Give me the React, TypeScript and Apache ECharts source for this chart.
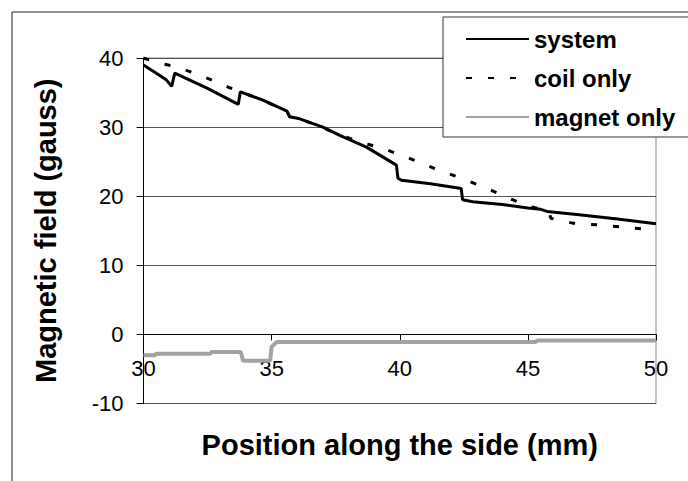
import React, { useEffect, useRef } from "react";
import * as echarts from "echarts";

// Position along the side (mm)
const systemX = [30, 30.5, 30.9, 31.1, 31.22, 32.5, 33.7, 33.78, 34.66, 35.6, 35.7, 36.1, 37.0, 37.66, 38.7, 39.87, 39.93, 40.07, 41.2, 42.4, 42.45, 42.85, 44.0, 45.0, 45.5, 45.75, 47.0, 48.5, 50];
const systemY = [39.0, 37.8, 36.8, 35.9, 37.8, 35.6, 33.3, 35.1, 33.9, 32.3, 31.5, 31.2, 30.0, 28.8, 27.1, 24.5, 22.6, 22.3, 21.8, 21.1, 19.5, 19.2, 18.8, 18.3, 18.1, 17.8, 17.3, 16.7, 16.0];

const coilX = [30, 30.56, 31.3, 31.9, 32.6, 33.3, 33.78, 34.66, 35.6, 35.7, 36.1, 37.0, 37.66, 38.25, 39.5, 40.5, 41.5, 42.4, 43.3, 44.16, 44.4, 45.07, 45.8, 45.9, 46.75, 47.9, 48.8, 50];
const coilY = [40.0, 39.3, 38.7, 37.9, 36.9, 35.8, 35.1, 33.9, 32.3, 31.5, 31.2, 29.9, 28.9, 28.1, 26.7, 25.3, 23.8, 22.6, 21.3, 19.9, 19.5, 18.5, 17.9, 16.8, 16.1, 15.8, 15.5, 15.1];

const magnetX = [30, 30.45, 30.5, 32.6, 32.65, 33.8, 33.88, 34.94, 35.0, 35.2, 45.3, 45.38, 50];
const magnetY = [-3.0, -3.0, -2.8, -2.8, -2.55, -2.55, -3.8, -3.8, -1.8, -1.1, -1.1, -0.87, -0.87];

const seriesNames = ["system", "coil only", "magnet only"];
const xTicks = { min: 30, max: 50, interval: 5 };
const yTicks = { min: -10, max: 40, interval: 10 };

const pairs = (xs: number[], ys: number[]) => xs.map((x, i) => [x, ys[i]]);

const FONT = "'Liberation Sans', Arial, sans-serif";
const GRID_H = 345.5;
// x axis sits at y = 0
const X_AXIS_OFFSET = -GRID_H * ((0 - yTicks.min) / (yTicks.max - yTicks.min));

export default function App() {
  const ref = useRef<HTMLDivElement>(null);
  useEffect(() => {
    if (!ref.current) return;
    const chart = echarts.init(ref.current, null, { renderer: "svg" });
    chart.setOption({
      animation: false,
      backgroundColor: "#fff",
      grid: {
        left: 143.5,
        top: 58,
        width: 512.5,
        height: GRID_H,
        containLabel: false,
        outerBoundsMode: "none",
        show: true,
        borderColor: "#888",
        borderWidth: 1,
        backgroundColor: "transparent",
      },
      legend: {
        orient: "vertical",
        left: 443,
        top: 17,
        itemWidth: 63,
        itemHeight: 14,
        itemGap: 15,
        padding: [10, 40, 8, 22],
        borderColor: "#333",
        borderWidth: 1,
        backgroundColor: "#fff",
        itemStyle: { opacity: 0 },
        textStyle: { fontSize: 24, fontWeight: "bold", fontFamily: FONT, color: "#000", lineHeight: 24 },
        data: seriesNames,
      },
      xAxis: {
        type: "value",
        position: "bottom",
        offset: X_AXIS_OFFSET,
        min: xTicks.min,
        max: xTicks.max,
        interval: xTicks.interval,
        name: "Position along the side (mm)",
        nameLocation: "middle",
        nameGap: 111,
        nameTextStyle: { fontSize: 29, fontWeight: "bold", fontFamily: FONT, color: "#000", verticalAlign: "middle" },
        axisLine: { onZero: false, lineStyle: { color: "#000", width: 1 } },
        axisTick: { show: true, length: 6, lineStyle: { color: "#000" } },
        axisLabel: { margin: 23, fontSize: 22, fontFamily: FONT, color: "#000" },
        splitLine: { show: false },
      },
      yAxis: {
        type: "value",
        min: yTicks.min,
        max: yTicks.max,
        interval: yTicks.interval,
        name: "Magnetic field (gauss)",
        nameLocation: "middle",
        nameGap: 98,
        nameTextStyle: { fontSize: 29, fontWeight: "bold", fontFamily: FONT, color: "#000", verticalAlign: "middle" },
        axisLine: { show: true, onZero: false, lineStyle: { color: "#000", width: 1 } },
        axisTick: { show: true, length: 7, lineStyle: { color: "#000" } },
        axisLabel: { margin: 20, fontSize: 22, fontFamily: FONT, color: "#000" },
        splitLine: { show: true, lineStyle: { color: "#555", width: 1 } },
      },
      graphic: [
        {
          type: "rect",
          shape: { x: 12, y: 12, width: 800, height: 600 },
          style: { fill: "none", stroke: "#222", lineWidth: 1 },
          silent: true,
        },
      ],
      series: [
        {
          name: seriesNames[0],
          type: "line",
          data: pairs(systemX, systemY),
          showSymbol: false,
          symbol: "none",
          lineStyle: { color: "#000", width: 3 },
          itemStyle: { color: "#000" },
          z: 3,
        },
        {
          name: seriesNames[1],
          type: "line",
          data: pairs(coilX, coilY),
          showSymbol: false,
          symbol: "none",
          lineStyle: { color: "#000", width: 3, type: [6, 16] },
          itemStyle: { color: "#000" },
          z: 4,
        },
        {
          name: seriesNames[2],
          type: "line",
          data: pairs(magnetX, magnetY),
          showSymbol: false,
          symbol: "none",
          lineStyle: { color: "#A3A3A3", width: 4 },
          itemStyle: { color: "#A3A3A3" },
          z: 2,
        },
      ],
    });
    return () => chart.dispose();
  }, []);
  return <div ref={ref} style={{ position: "absolute", left: 0, top: 0, width: 688, height: 481 }} />;
}
